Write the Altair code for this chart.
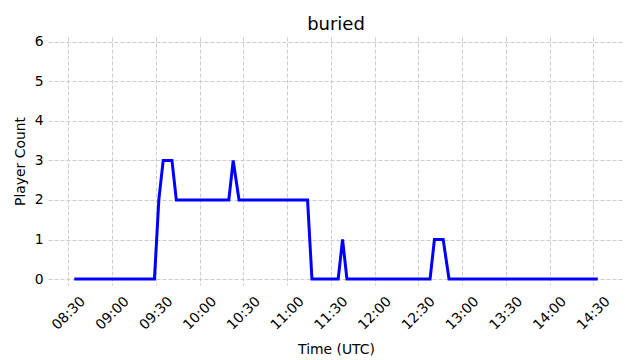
import altair as alt
import pandas as pd

times = ["08:34", "09:29", "09:32", "09:35", "09:41", "09:44", "10:20", "10:23",
         "10:27", "11:14", "11:17", "11:35", "11:38", "11:41", "12:38", "12:41",
         "12:47", "12:51", "14:33"]
counts = [0, 0, 2, 3, 3, 2, 2, 3, 2, 2, 0, 0, 1, 0, 0, 1, 1, 0, 0]
tick_labels = ["08:30", "09:00", "09:30", "10:00", "10:30", "11:00", "11:30",
               "12:00", "12:30", "13:00", "13:30", "14:00", "14:30"]

df = pd.DataFrame({"time": ["2024-01-01T" + t + ":00Z" for t in times], "count": counts})


def dt(s):
    h, m = s.split(":")
    return alt.DateTime(year=2024, month=1, date=1, hours=int(h), minutes=int(m), utc=True)


chart = (
    alt.Chart(df)
    .mark_line(color="#0000ff", strokeWidth=3, clip=True)
    .encode(
        x=alt.X(
            "time:T",
            scale=alt.Scale(type="utc", domain=[dt("08:16"), dt("14:51")]),
            axis=alt.Axis(
                title="Time (UTC)",
                values=[dt(t) for t in tick_labels],
                format="%H:%M",
                labelAngle=-45,
                labelAlign="center",
                labelBaseline="middle",
                labelPadding=28,
                titlePadding=10,
            ),
        ),
        y=alt.Y(
            "count:Q",
            scale=alt.Scale(domain=[-0.15, 6.12], nice=False, zero=False),
            axis=alt.Axis(title="Player Count", values=[0, 1, 2, 3, 4, 5, 6], labelPadding=5, titlePadding=7),
        ),
    )
    .properties(
        width=576,
        height=248,
        title=alt.TitleParams("buried"),
        autosize=alt.AutoSizeParams(type="none"),
        padding={"left": 48, "top": 37, "right": 16, "bottom": 75},
    )
    .configure_view(stroke=None)
    .configure_title(font="DejaVu Sans", fontSize=18, fontWeight="normal", color="#000000", offset=1, anchor="middle")
    .configure_axis(
        domain=False,
        ticks=False,
        grid=True,
        gridColor="#cccccc",
        gridDash=[4, 2],
        gridWidth=1,
        labelFont="DejaVu Sans",
        labelFontSize=13.9,
        labelColor="#000000",
        titleFont="DejaVu Sans",
        titleFontSize=13.9,
        titleFontWeight="normal",
        titleColor="#000000",
    )
)

chart.save("out.html", embed_options={"renderer": "svg", "actions": False})
